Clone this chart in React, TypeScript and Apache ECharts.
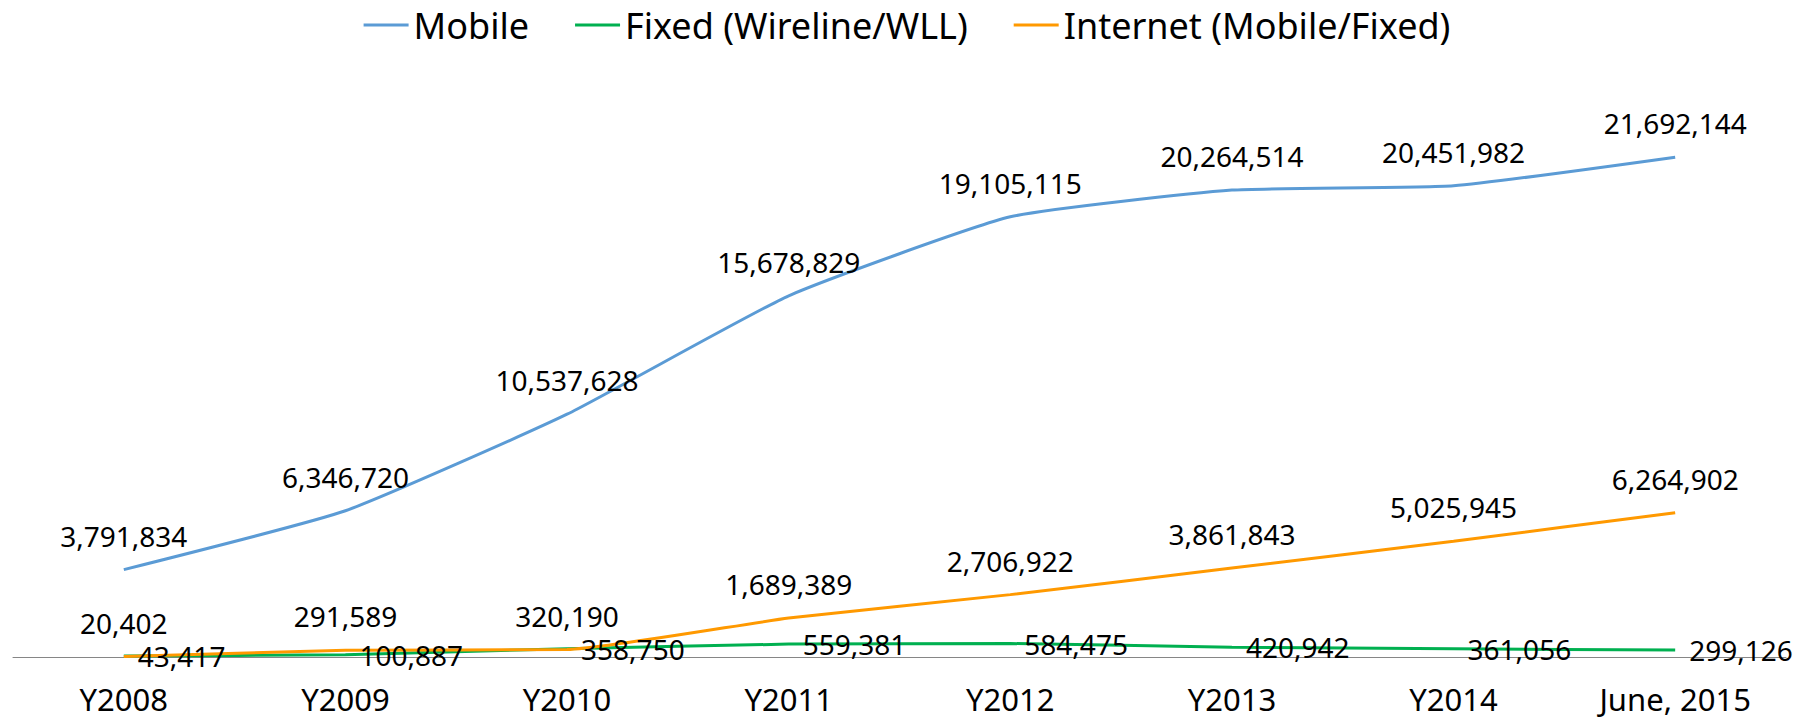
import React, { useEffect, useRef } from "react";
import * as echarts from "echarts";

const categories = ["Y2008", "Y2009", "Y2010", "Y2011", "Y2012", "Y2013", "Y2014", "June, 2015"];
const mobile = [3791834, 6346720, 10537628, 15678829, 19105115, 20264514, 20451982, 21692144];
const fixed = [43417, 100887, 358750, 559381, 584475, 420942, 361056, 299126];
const internet = [20402, 291589, 320190, 1689389, 2706922, 3861843, 5025945, 6264902];
const seriesNames = ["Mobile", "Fixed (Wireline/WLL)", "Internet (Mobile/Fixed)"];

const FONT = "'Noto Sans', sans-serif";
const fmt = (v: number) => v.toLocaleString("en-US");

export default function App() {
  const ref = useRef<HTMLDivElement>(null);
  useEffect(() => {
    document.body.style.margin = "0";
    const chart = echarts.init(ref.current!, undefined, { renderer: "svg" });
    const labelBase = {
      show: true,
      color: "#000",
      fontFamily: FONT,
      fontSize: 28,
      lineHeight: 28,
      formatter: (p: any) => fmt(p.value),
    };
    const mk = (name: string, data: number[], color: string, label: any) => ({
      name,
      type: "line",
      data,
      smooth: 0.15,
      symbol: "circle",
      symbolSize: 0,
      showSymbol: true,
      color,
      itemStyle: { color },
      lineStyle: { width: 3, color },
      label: { ...labelBase, ...label },
      labelLayout: { hideOverlap: false },
    });
    chart.setOption({
      animation: false,
      backgroundColor: "#fff",
      legend: {
        top: 2,
        left: "center",
        icon: "rect",
        itemWidth: 45,
        itemHeight: 3,
        itemGap: 46,
        textStyle: { fontFamily: FONT, fontSize: 36, color: "#000" },
        data: seriesNames,
      },
      grid: { left: 13, right: 28, top: 81, bottom: 63 },
      xAxis: {
        type: "category",
        data: categories,
        boundaryGap: true,
        axisLine: { lineStyle: { color: "#868686", width: 1 } },
        axisTick: { show: false },
        axisLabel: { color: "#000", fontFamily: FONT, fontSize: 31, margin: 26 },
      },
      yAxis: {
        type: "value",
        min: 0,
        max: 25000000,
        show: false,
        splitLine: { show: false },
      },
      series: [
        mk(seriesNames[0], mobile, "#5B9BD5", { position: "top", distance: 20 }),
        mk(seriesNames[1], fixed, "#00B050", { position: "right", distance: 14, offset: [0, 4] }),
        mk(seriesNames[2], internet, "#FF9900", { position: "top", distance: 20 }),
      ],
    });
    return () => chart.dispose();
  }, []);
  return <div ref={ref} style={{ position: "absolute", left: 0, top: 0, width: 1814, height: 720 }} />;
}
